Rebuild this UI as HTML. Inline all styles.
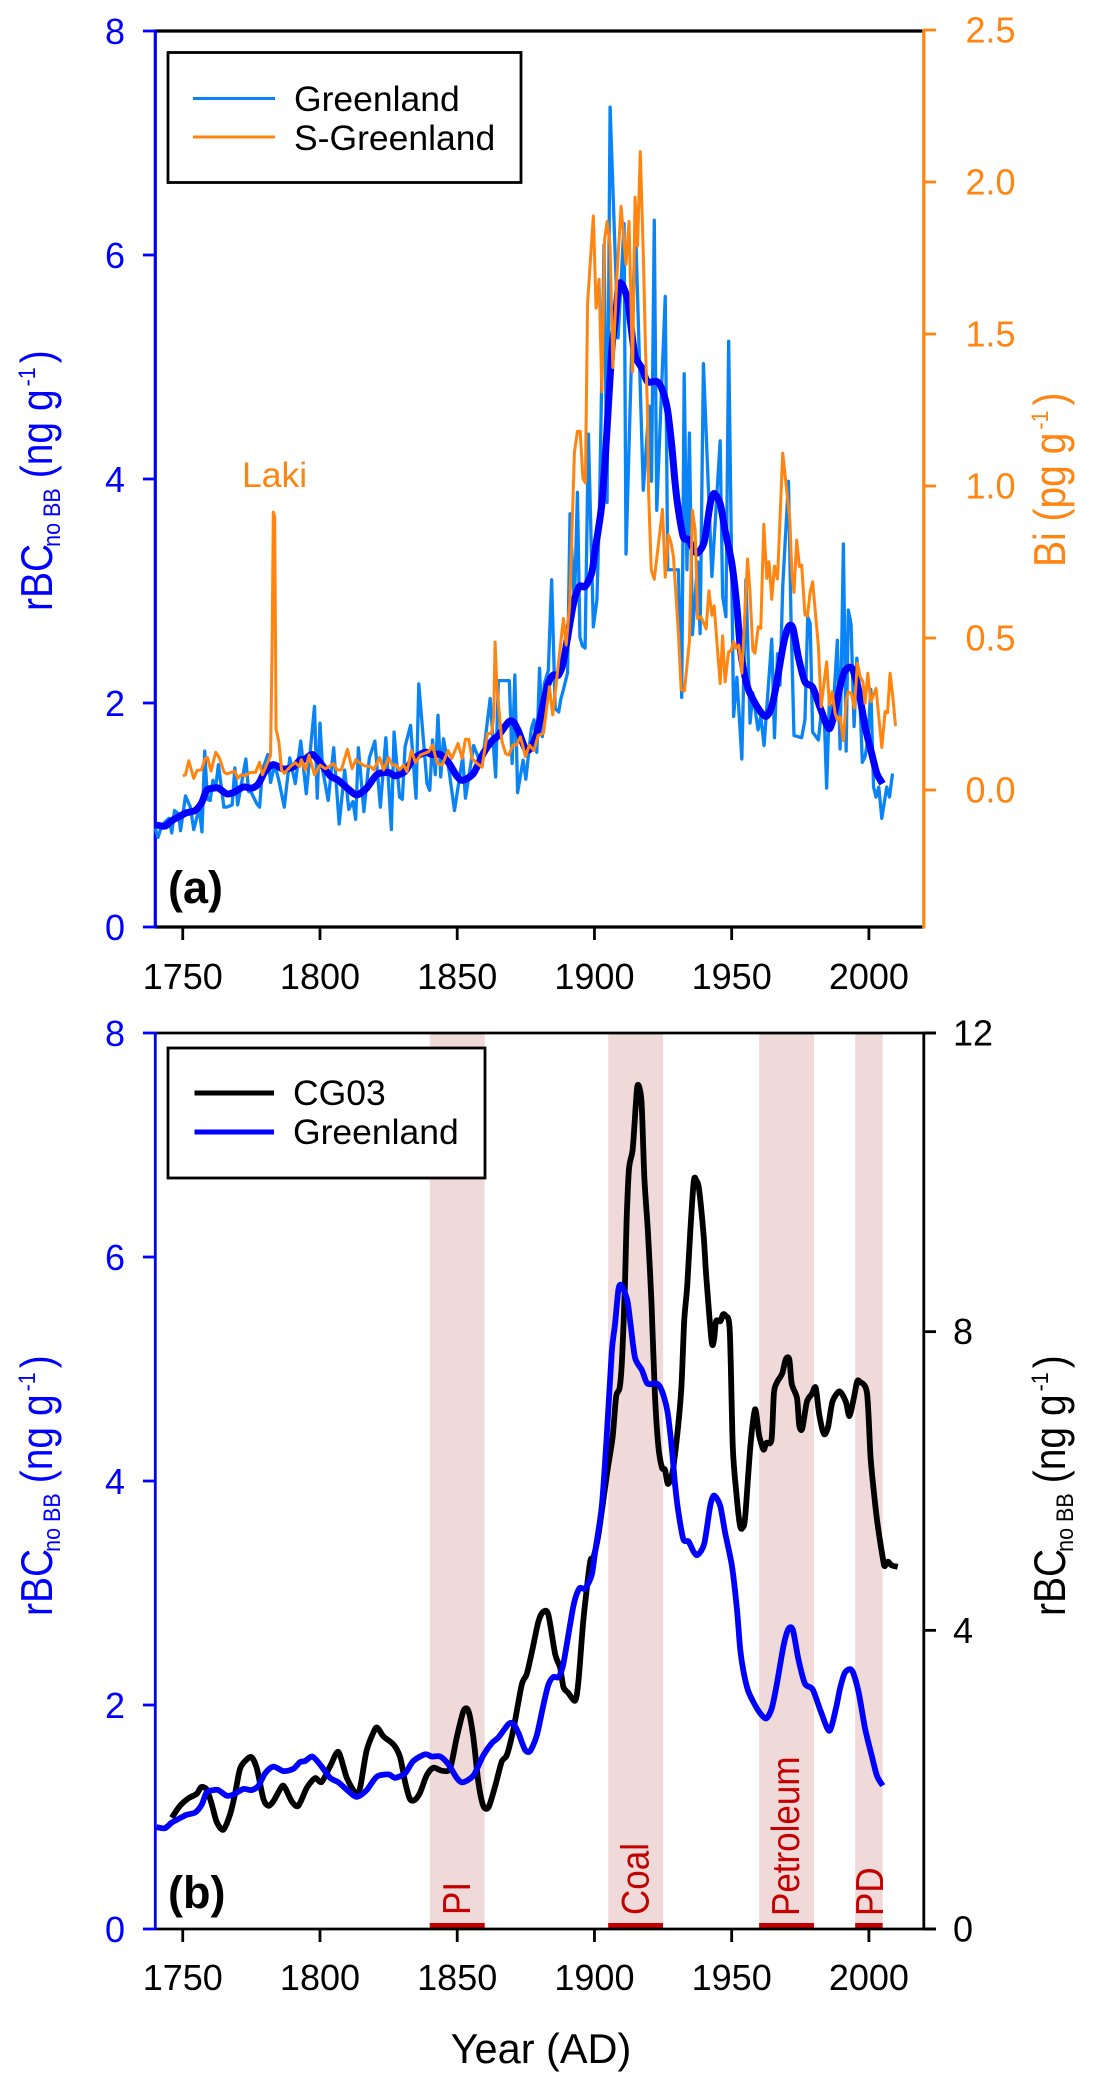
<!DOCTYPE html>
<html lang="en">
<head>
<meta charset="utf-8">
<title>rBC and Bi records</title>
<style>
html,body{margin:0;padding:0;background:#fff}
svg{display:block}
text{font-family:"Liberation Sans",Arial,sans-serif}
</style>
</head>
<body>
<svg id="chart" xmlns="http://www.w3.org/2000/svg" width="1094" height="2088" viewBox="0 0 1094 2088">
<rect width="1094" height="2088" fill="#fff"/>
<g id="bands"></g>
<g id="axesA"></g>
<g id="axesB"></g>
<g id="marksA"></g>
<g id="marksB"></g>

<g>
<rect x="168" y="52.5" width="353" height="130" fill="#fff" stroke="#000" stroke-width="2.8"/>
<line x1="193" x2="275" y1="98.5" y2="98.5" stroke="#0a84f5" stroke-width="3"/>
<line x1="193" x2="275" y1="137" y2="137" stroke="#ff8410" stroke-width="3"/>
<text x="294" y="111" font-size="35.5">Greenland</text>
<text x="294" y="150" font-size="35.5">S-Greenland</text>
</g>
<text x="242" y="487" font-size="35.5" fill="#ff8410">Laki</text>
<text x="168" y="903" font-size="45" font-weight="bold">(a)</text>

<g>
<rect x="168" y="1048" width="317" height="130" fill="#fff" stroke="#000" stroke-width="2.8"/>
<line x1="194.5" x2="274" y1="1093" y2="1093" stroke="#000" stroke-width="5"/>
<line x1="194.5" x2="274" y1="1132" y2="1132" stroke="#0000ff" stroke-width="5"/>
<text x="293" y="1105" font-size="35.5">CG03</text>
<text x="293" y="1144" font-size="35.5">Greenland</text>
</g>
<text x="168" y="1908" font-size="45" font-weight="bold">(b)</text>

<text transform="translate(470,1915) rotate(-90) scale(1,1.1)" font-size="35" fill="#c40000">PI</text>
<text transform="translate(648.5,1915) rotate(-90) scale(1,1.1)" font-size="35" fill="#c40000">Coal</text>
<text transform="translate(799,1916) rotate(-90) scale(1,1.1)" font-size="35" fill="#c40000">Petroleum</text>
<text transform="translate(883,1916) rotate(-90) scale(1,1.1)" font-size="35" fill="#c40000">PD</text>

<text transform="translate(52,611) rotate(-90) scale(1,1.13)" font-size="39" fill="#0000ff">rBC<tspan font-size="21.5" dx="-3" dy="7">no BB</tspan><tspan dx="10" dy="-7">(ng g</tspan><tspan font-size="21.5" dx="3" dy="-15">-1</tspan><tspan dx="4" dy="15">)</tspan></text>
<text transform="translate(1065,567) rotate(-90) scale(1,1.13)" font-size="39" fill="#ff8410">Bi (pg g<tspan font-size="21.5" dx="3" dy="-15">-1</tspan><tspan dx="5" dy="15">)</tspan></text>
<text transform="translate(52,1616) rotate(-90) scale(1,1.13)" font-size="39" fill="#0000ff">rBC<tspan font-size="21.5" dx="-3" dy="7">no BB</tspan><tspan dx="10" dy="-7">(ng g</tspan><tspan font-size="21.5" dx="3" dy="-15">-1</tspan><tspan dx="4" dy="15">)</tspan></text>
<text transform="translate(1065,1616) rotate(-90) scale(1,1.13)" font-size="39" fill="#000">rBC<tspan font-size="21.5" dx="-3" dy="7">no BB</tspan><tspan dx="10" dy="-7">(ng g</tspan><tspan font-size="21.5" dx="3" dy="-15">-1</tspan><tspan dx="4" dy="15">)</tspan></text>
<text x="541" y="2063" font-size="41.5" text-anchor="middle">Year (AD)</text>
</svg>

<script>
var xTicks = [1750, 1800, 1850, 1900, 1950, 2000];
var leftTicks = [0, 2, 4, 6, 8];
var biTicks = ["0.0", "0.5", "1.0", "1.5", "2.0", "2.5"];
var cgTicks = [0, 4, 8, 12];
var bandNames = ["pi", "coal", "petroleum", "pd"];
var bandStarts = [1840, 1905, 1960, 1995];
var bandEnds = [1860, 1925, 1980, 2005];

var greenlandYears = [1740,1741,1742.4,1745,1746,1747,1748.5,1749.2,1751,1752.8,1754,1756,1757,1758,1759,1760,1761,1762,1763,1765,1766,1768,1769,1770,1773,1774,1775,1777,1778,1779,1781,1782,1783.5,1785,1787,1789,1791,1793,1795,1798,1799,1800,1801,1803,1805,1807,1809,1810.5,1812,1813,1814,1816,1818,1820,1822,1824,1826,1827,1829,1830,1831,1833,1835,1836,1839,1840,1841,1842,1843,1844,1845,1847,1849,1852,1853,1856,1859,1862,1864,1865,1869,1870,1871,1872,1874,1875,1877,1878,1879,1880,1881,1881.7,1883.2,1884.4,1885.7,1887,1887.7,1888.7,1890.2,1891.1,1892.7,1893.8,1894.7,1895.6,1896.6,1897.8,1899.6,1900.9,1901.8,1903.5,1904.6,1905.7,1908.6,1910.8,1911.5,1914.9,1917.8,1919.9,1920.8,1921.8,1922.7,1925.8,1926.7,1930.6,1931.8,1932.7,1933.7,1934.6,1935.7,1937.6,1938.5,1939.7,1942.8,1945.8,1946.7,1947.9,1948.9,1950.7,1951.9,1953.7,1955.2,1956.7,1957.7,1959.6,1960.6,1961.8,1964.6,1965.6,1966.7,1967.6,1968.6,1970.7,1971.6,1972.7,1975.5,1976.7,1977.7,1978.6,1979.5,1981.6,1982.6,1983.7,1984.6,1985.6,1986.7,1988.5,1989.5,1990.7,1991.7,1992.5,1993.5,1994.6,1995.6,1996.6,1997.6,1998.6,1999.6,2000.7,2001.7,2002.6,2003.6,2004.7,2006.5,2007.5,2008.6,2009.7];
var greenlandValues = [0.88,0.80,0.91,0.97,0.84,1.04,1.01,0.86,1.17,1.07,0.87,1.06,0.85,1.57,1.14,1.13,1.31,1.25,1.45,1.07,1.07,1.09,1.42,1.09,1.50,1.21,1.20,1.10,1.07,1.40,1.54,1.29,1.45,1.31,1.07,1.51,1.28,1.66,1.19,1.97,1.15,1.82,1.40,1.13,1.60,0.92,1.40,1.05,1.12,0.96,1.60,1.03,1.51,1.66,1.07,1.69,0.87,1.74,1.16,1.14,1.61,1.80,1.15,2.17,1.28,1.22,1.67,1.36,1.89,1.34,1.68,1.40,1.04,1.52,1.15,1.62,1.43,2.04,1.34,2.20,2.20,1.46,2.25,1.20,1.49,1.32,1.77,1.85,1.56,2.31,1.70,2.17,2.29,3.10,1.95,1.92,2.03,2.12,2.27,3.69,2.86,3.88,2.59,2.51,2.49,4.40,2.68,2.92,3.69,6.09,3.79,7.32,5.26,6.28,3.33,6.30,3.90,4.65,3.98,6.31,3.72,5.63,3.19,3.19,2.05,4.94,3.19,4.41,2.61,3.26,2.62,5.03,3.13,4.34,2.95,2.77,5.23,1.88,2.23,1.50,3.10,1.82,2.09,1.76,1.88,1.62,2.57,1.69,2.44,2.16,3.04,3.98,2.77,1.71,1.69,1.85,2.77,2.71,1.74,1.67,1.91,1.91,1.24,2.03,1.82,2.56,1.59,3.42,1.57,2.83,2.70,1.79,2.40,2.12,1.47,1.52,1.67,2.12,1.25,1.16,1.25,0.97,1.25,1.16,1.37];

var biYears = [1750,1751,1752.2,1754,1755.2,1756.8,1758.2,1759,1760.3,1762,1763.3,1765,1766,1769,1770,1771.3,1772.8,1774.6,1776.5,1778,1779,1781.3,1782,1782.6,1783,1783.5,1784,1785,1786,1787,1789.2,1791,1792.5,1793.2,1794.7,1796,1798,1800,1802,1805,1806.2,1807.8,1810,1811.7,1813.1,1814.4,1816,1818.4,1819.6,1821.7,1823.2,1825,1826.3,1827.7,1829,1830.5,1831.7,1833.3,1834.8,1836.6,1839.6,1841,1842.7,1844.5,1846.7,1848,1850.3,1851.8,1853,1854.2,1855.4,1857.3,1859,1861,1862.5,1863.3,1863.8,1864.4,1866.2,1867.6,1868.8,1870.3,1871.6,1873,1874.9,1876.3,1877.9,1879.5,1881.4,1883.6,1884.8,1888.7,1889.7,1891,1892.7,1893.8,1894.8,1895.8,1896.7,1897.5,1899.6,1900.6,1901.7,1902.7,1903.7,1904.6,1905.7,1906.7,1908.2,1909.7,1911.5,1912.6,1913.9,1914.8,1915.7,1916.7,1917.9,1918.6,1919.3,1919.7,1920.7,1921.8,1924.8,1925.8,1926.9,1927.8,1928.8,1930.6,1931.6,1932.8,1934.6,1935.7,1936.7,1937.6,1938.8,1940.7,1941.7,1942.8,1943.6,1945.8,1946.7,1947.6,1948.9,1949.7,1950.7,1951.6,1952.6,1953.7,1955.8,1956.7,1957.7,1958.5,1959.7,1960.6,1961.7,1962.8,1963.6,1964.6,1965.6,1966.7,1968.6,1971.2,1971.9,1972.7,1973.7,1974.7,1975.5,1976.7,1977.6,1978.6,1979.5,1981.6,1982.6,1984.6,1985.6,1986.6,1987.7,1988.5,1989.5,1990.7,1991.7,1992.5,1993.6,1994.7,1995.8,1996.8,1997.8,1998.6,1999.6,2000.7,2002.6,2004.7,2005.9,2006.8,2007.7,2008.7,2009.7];
var biValues = [0.047,0.05,0.096,0.038,0.064,0.066,0.104,0.107,0.062,0.124,0.107,0.06,0.053,0.062,0.038,0.05,0.047,0.058,0.058,0.091,0.05,0.098,0.115,0.5,0.914,0.9,0.2,0.16,0.066,0.055,0.077,0.09,0.077,0.1,0.066,0.115,0.05,0.082,0.07,0.087,0.066,0.066,0.134,0.07,0.1,0.09,0.08,0.077,0.066,0.107,0.066,0.107,0.082,0.082,0.066,0.082,0.06,0.13,0.09,0.115,0.126,0.148,0.087,0.082,0.13,0.104,0.153,0.104,0.167,0.167,0.104,0.087,0.075,0.186,0.186,0.24,0.487,0.35,0.164,0.12,0.115,0.148,0.148,0.175,0.11,0.148,0.13,0.18,0.186,0.34,0.247,0.564,0.477,0.61,1.11,1.18,1.18,1.025,1.01,1.60,1.888,1.585,1.68,1.31,1.81,1.87,1.79,1.39,1.69,1.92,1.73,1.87,1.376,1.95,1.79,2.10,1.73,1.45,1.26,0.987,0.724,0.693,0.923,0.70,0.84,0.817,0.767,0.515,0.33,0.326,0.49,0.92,0.855,0.564,0.57,0.53,0.655,0.575,0.606,0.35,0.507,0.356,0.455,0.457,0.488,0.466,0.477,0.384,0.76,0.647,0.46,0.45,0.537,0.532,0.874,0.696,0.751,0.627,0.737,0.694,1.108,0.888,0.718,0.65,0.822,0.735,0.74,0.576,0.572,0.652,0.685,0.472,0.274,0.422,0.28,0.323,0.252,0.23,0.241,0.162,0.296,0.323,0.318,0.269,0.417,0.373,0.356,0.285,0.384,0.29,0.334,0.14,0.258,0.254,0.384,0.307,0.21];

var smoothYears = [1740.5,1743.5,1746,1749,1751.4,1754.5,1756.9,1758.7,1761.2,1763,1766,1768.4,1772.1,1775.1,1777.6,1780,1783,1786.7,1790.3,1792.7,1794.6,1797.2,1800,1803.7,1806.7,1810.4,1813.4,1817,1820.7,1825,1827.4,1831,1834,1838.3,1840.7,1843.8,1846.8,1849.8,1852,1855.9,1859.5,1862.6,1865,1868.7,1870.5,1872.3,1874.7,1876.6,1879,1881.4,1883.2,1885,1886.9,1888.7,1892.3,1894.5,1896.6,1899,1900.2,1902.7,1904.5,1906.3,1907.5,1908.8,1910,1912,1913.2,1914.8,1917.3,1919.3,1922.7,1924.5,1926.6,1928.2,1929.4,1930.6,1932.4,1934.3,1936.1,1937.6,1940,1942.2,1943.6,1945.8,1947.6,1950.1,1951.9,1953.1,1954.3,1956.1,1959.7,1962.5,1964.6,1966.4,1968.9,1970.7,1972.3,1974.3,1976.7,1979.5,1982.5,1985.6,1988,1989.5,1991.3,1993.8,1996.2,1998.6,2001,2002.9,2005];
var smoothValues = [0.91,0.90,0.95,0.99,1.02,1.04,1.11,1.22,1.24,1.24,1.19,1.20,1.25,1.24,1.28,1.39,1.45,1.41,1.43,1.49,1.50,1.54,1.47,1.35,1.31,1.23,1.18,1.24,1.36,1.38,1.35,1.39,1.50,1.56,1.54,1.54,1.47,1.35,1.31,1.37,1.55,1.66,1.71,1.83,1.83,1.75,1.60,1.59,1.73,2.0,2.18,2.25,2.25,2.37,2.88,3.04,3.04,3.16,3.36,3.78,4.41,5.15,5.40,5.72,5.74,5.61,5.39,5.10,4.99,4.87,4.87,4.81,4.62,4.29,3.96,3.72,3.48,3.46,3.37,3.34,3.44,3.78,3.87,3.78,3.54,3.24,2.86,2.5,2.3,2.12,1.95,1.88,1.97,2.18,2.53,2.68,2.67,2.41,2.19,2.14,1.94,1.77,1.97,2.15,2.29,2.31,2.12,1.79,1.55,1.37,1.28];

var cgYears = [1746,1749,1752,1755.1,1756.7,1758.7,1760.5,1762.4,1764.8,1767.2,1769,1770.9,1773.3,1775.1,1777,1779.4,1781.2,1783,1786.1,1787.3,1789.7,1792.1,1795.2,1798.2,1800.6,1803.7,1806.7,1809.7,1812.8,1814.6,1817,1820.1,1821.3,1823.1,1826.8,1829.2,1831,1832.8,1834.6,1836.5,1838.9,1841.3,1844.4,1847.4,1849.8,1852.3,1854.1,1855.9,1857.7,1859.5,1861.4,1863.8,1866.2,1868.1,1870.5,1873.5,1875.3,1877.2,1879.6,1881.4,1883.2,1885.7,1887.5,1888.7,1890.5,1893,1894.2,1896,1898.4,1899.5,1901.4,1904.7,1906.6,1907.9,1909.2,1910.1,1911.1,1911.7,1912.6,1913.9,1915,1915.6,1916.3,1917.2,1918.2,1919.5,1920.8,1922,1923.3,1924.6,1925.7,1926.8,1928.5,1930.4,1931.7,1932.7,1933.8,1934.9,1936.2,1937.2,1938.1,1939.8,1940.7,1942.7,1943.6,1944.3,1945.9,1946.8,1947.8,1949.3,1950.4,1951.7,1953,1953.9,1954.9,1956.8,1958.5,1960,1961.6,1962.6,1964.5,1965.4,1966.5,1968.4,1969.7,1971,1971.9,1973.8,1974.6,1975.7,1977.4,1979.1,1980.6,1981.9,1983.6,1985.1,1986.7,1989.3,1991.6,1992.9,1994.5,1995.7,1996.7,1999.3,2000.6,2001.9,2003.2,2005.1,2005.7,2007,2008.3,2010.5];
var cgValues = [1.49,1.65,1.75,1.81,1.90,1.87,1.68,1.43,1.33,1.53,1.80,2.15,2.27,2.30,2.15,1.74,1.65,1.71,1.91,1.89,1.71,1.65,1.89,2.02,1.97,2.18,2.37,2.03,1.83,1.89,2.39,2.68,2.68,2.58,2.47,2.30,1.97,1.74,1.73,1.83,2.06,2.16,2.12,2.15,2.56,2.92,2.92,2.56,1.97,1.65,1.63,1.91,2.24,2.33,2.68,3.27,3.41,3.71,4.12,4.25,4.21,3.68,3.50,3.24,3.16,3.06,3.33,4.15,4.91,4.96,5.27,6.13,6.58,7.13,7.25,7.66,8.61,9.47,10.19,10.43,11.0,11.28,11.28,11.05,10.05,9.33,8.37,7.18,6.46,6.18,6.15,5.96,6.13,6.70,7.27,8.14,8.61,9.33,10.02,10.02,9.91,9.28,8.76,7.87,7.90,8.14,8.14,8.23,8.21,8.02,6.46,5.84,5.41,5.37,5.51,6.46,6.96,6.61,6.42,6.51,6.55,7.18,7.32,7.44,7.63,7.63,7.30,7.11,6.75,6.70,7.06,7.16,7.25,6.89,6.63,6.72,7.06,7.20,7.06,6.87,7.11,7.33,7.33,7.18,6.32,5.82,5.41,4.96,4.86,4.92,4.87,4.85];

var NS = "http://www.w3.org/2000/svg";
function xScale(year) { return 155.3 + (year - 1740) * (923.8 - 155.3) / 280; }
function yLeftA(v) { return 927 - v * 112; }
function yBi(v) { return 790 - v * 304; }
function yLeftB(v) { return 1929 - v * 112; }
function yCg(v) { return 1929 - v * (896 / 12); }

function svgEl(tag, parent) {
  var el = document.createElementNS(NS, tag);
  parent.appendChild(el);
  return el;
}
function seg(el, x1, y1, x2, y2, color, width) {
  el.setAttribute("x1", x1);
  el.setAttribute("y1", y1);
  el.setAttribute("x2", x2);
  el.setAttribute("y2", y2);
  el.setAttribute("stroke", color);
  el.setAttribute("stroke-width", width);
}
function label(el, x, y, str, color, anchor) {
  el.setAttribute("x", x);
  el.setAttribute("y", y);
  el.setAttribute("font-size", "36");
  el.setAttribute("fill", color);
  el.setAttribute("text-anchor", anchor);
  el.textContent = str;
}
function stylePath(el, d, color, width) {
  el.setAttribute("d", d);
  el.setAttribute("fill", "none");
  el.setAttribute("stroke", color);
  el.setAttribute("stroke-width", width);
  el.setAttribute("stroke-linejoin", "round");
  el.setAttribute("stroke-linecap", "butt");
}
function pathFrom(el, years, values, yFn, color, width) {
  var d = "";
  for (var i = 0; i < years.length; i++) {
    d += (i ? "L" : "M") + xScale(years[i]).toFixed(2) + " " + yFn(values[i]).toFixed(2);
  }
  stylePath(el, d, color, width);
}
function curveFrom(el, years, values, yFn, color, width) {
  var n = years.length, t = 0.8 / 6;
  function px(i) { return xScale(years[Math.max(0, Math.min(n - 1, i))]); }
  function py(i) { return yFn(values[Math.max(0, Math.min(n - 1, i))]); }
  var d = "M" + px(0).toFixed(2) + " " + py(0).toFixed(2);
  for (var i = 0; i < n - 1; i++) {
    d += "C" + (px(i) + (px(i + 1) - px(i - 1)) * t).toFixed(2) + " " + (py(i) + (py(i + 1) - py(i - 1)) * t).toFixed(2) +
      " " + (px(i + 1) - (px(i + 2) - px(i)) * t).toFixed(2) + " " + (py(i + 1) - (py(i + 2) - py(i)) * t).toFixed(2) +
      " " + px(i + 1).toFixed(2) + " " + py(i + 1).toFixed(2);
  }
  stylePath(el, d, color, width);
}

var BLUE = "#0000ff", ORANGE = "#ff8410", THIN = "#0a84f5", RED = "#c40000";
var bandsG = document.getElementById("bands");
var axesA = document.getElementById("axesA");
var axesB = document.getElementById("axesB");
var marksA = document.getElementById("marksA");
var marksB = document.getElementById("marksB");

bandNames.forEach(function (name, i) {
  var x0 = xScale(bandStarts[i]), x1 = xScale(bandEnds[i]);
  var r = svgEl("rect", bandsG);
  
  
  r.setAttribute("x", x0);
  r.setAttribute("y", 1033);
  r.setAttribute("width", x1 - x0);
  r.setAttribute("height", 896);
  r.setAttribute("fill", "#f0d9d9");
  var b = svgEl("rect", bandsG);
  
  
  b.setAttribute("x", x0);
  b.setAttribute("y", 1923);
  b.setAttribute("width", x1 - x0);
  b.setAttribute("height", 6);
  b.setAttribute("fill", RED);
});

/* panel a frame */
var aTop = svgEl("line", axesA);


seg(aTop, 155, 31, 924, 31, "#000", 3.2);
var aBottom = svgEl("line", axesA);


seg(aBottom, 155, 927, 924, 927, "#000", 3.2);
var aLeft = svgEl("line", axesA);


seg(aLeft, 155.3, 29.5, 155.3, 928.5, BLUE, 3.2);
var aRight = svgEl("line", axesA);


seg(aRight, 923.8, 29, 923.8, 928.5, ORANGE, 3.2);

/* panel b frame */
var bTop = svgEl("line", axesB);


seg(bTop, 155, 1033, 936, 1033, "#000", 2.8);
var bBottom = svgEl("line", axesB);


seg(bBottom, 155, 1929, 936, 1929, "#000", 2.8);
var bLeft = svgEl("line", axesB);


seg(bLeft, 155.3, 1032, 155.3, 1930, BLUE, 2.8);
var bRight = svgEl("line", axesB);


seg(bRight, 923.8, 1032, 923.8, 1930, "#000", 2.8);

xTicks.forEach(function (year) {
  var x = xScale(year);
  var ta = svgEl("line", axesA);
  
  
  seg(ta, x, 927, x, 940, "#000", 2.8);
  var la = svgEl("text", axesA);
  
  
  label(la, x, 989, String(year), "#000", "middle");
  var tb = svgEl("line", axesB);
  
  
  seg(tb, x, 1929, x, 1942, "#000", 2.8);
  var lb = svgEl("text", axesB);
  
  
  label(lb, x, 1990, String(year), "#000", "middle");
});

leftTicks.forEach(function (v) {
  var ya = yLeftA(v), yb = yLeftB(v);
  var ta = svgEl("line", axesA);
  
  
  seg(ta, 143, ya, 155, ya, BLUE, 2.8);
  var la = svgEl("text", axesA);
  
  
  label(la, 125, ya + 13, String(v), BLUE, "end");
  var tb = svgEl("line", axesB);
  
  
  seg(tb, 143, yb, 155, yb, BLUE, 2.8);
  var lb = svgEl("text", axesB);
  
  
  label(lb, 125, yb + 13, String(v), BLUE, "end");
});

biTicks.forEach(function (t) {
  var y = yBi(parseFloat(t));
  var tk = svgEl("line", axesA);
  
  
  seg(tk, 924, y, 936, y, ORANGE, 2.8);
  var lb = svgEl("text", axesA);
  
  
  label(lb, 965.5, y + 12.5, t, ORANGE, "start");
});

cgTicks.forEach(function (v) {
  var y = yCg(v);
  var tk = svgEl("line", axesB);
  
  
  seg(tk, 924, y, 936, y, "#000", 2.8);
  var lb = svgEl("text", axesB);
  
  
  label(lb, 953, y + 12.5, String(v), "#000", "start");
});

var thinLine = svgEl("path", marksA);


pathFrom(thinLine, greenlandYears, greenlandValues, yLeftA, THIN, 3.3);

var smoothA = svgEl("path", marksA);


curveFrom(smoothA, smoothYears, smoothValues, yLeftA, BLUE, 7);

var biLine = svgEl("path", marksA);


pathFrom(biLine, biYears, biValues, yBi, ORANGE, 3);

var cgLine = svgEl("path", marksB);


curveFrom(cgLine, cgYears, cgValues, yCg, "#000", 5.8);

var smoothB = svgEl("path", marksB);


curveFrom(smoothB, smoothYears, smoothValues, yLeftB, BLUE, 5.8);
</script>
</body>
</html>
